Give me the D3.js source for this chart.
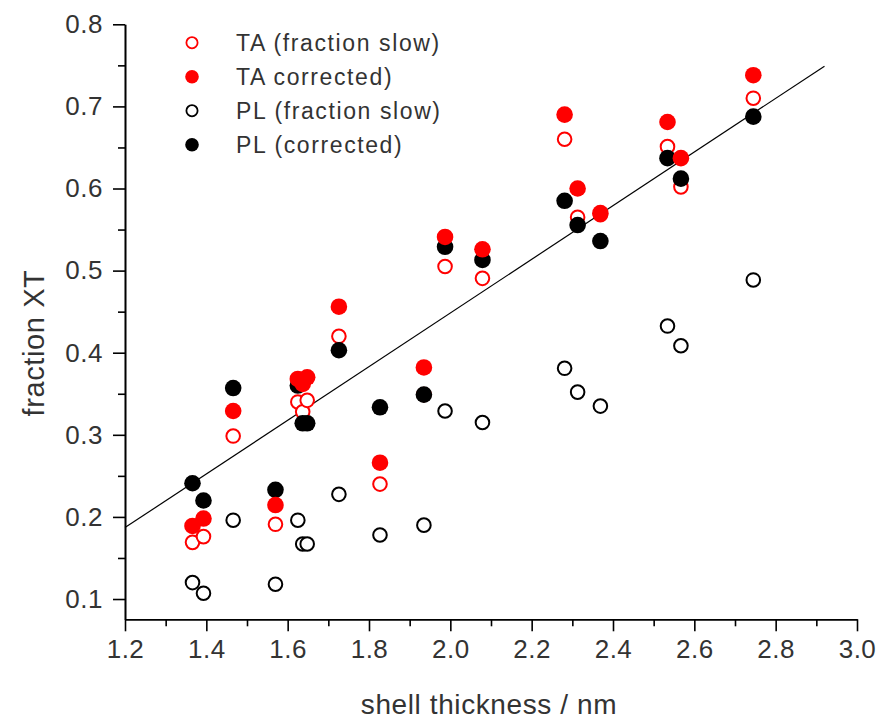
<!DOCTYPE html>
<html>
<head>
<meta charset="utf-8">
<script src="https://cdn.jsdelivr.net/npm/d3@7/dist/d3.min.js"></script>
<style>
  html, body { margin: 0; padding: 0; background: #fff; }
  svg { display: block; }
  svg text { font-family: "Liberation Sans", Arial, sans-serif; }
</style>
</head>
<body>
<svg id="chart" width="879" height="719"></svg>
<script>
// Shell thickness (nm) of each sample
const thickness = [1.366, 1.393, 1.466, 1.570, 1.625, 1.637, 1.648, 1.726, 1.827,
                   1.935, 1.987, 2.079, 2.281, 2.313, 2.369, 2.534, 2.567, 2.745];
// Fraction XT per method
const taSlow      = [0.169, 0.176, 0.2985, 0.191, 0.340, 0.328, 0.342, 0.420, 0.240,
                     0.349, 0.505, 0.4906, 0.660, 0.565, 0.568, 0.651, 0.602, 0.710];
const taCorrected = [0.189, 0.198, 0.329, 0.2145, 0.368, 0.362, 0.370, 0.456, 0.266,
                     0.382, 0.541, 0.526, 0.690, 0.600, 0.570, 0.681, 0.637, 0.738];
const plSlow      = [0.120, 0.107, 0.196, 0.118, 0.196, 0.167, 0.167, 0.2275, 0.178,
                     0.190, 0.329, 0.315, 0.381, 0.352, 0.335, 0.4325, 0.4085, 0.4886];
const plCorrected = [0.241, 0.220, 0.357, 0.233, 0.360, 0.314, 0.314, 0.403, 0.3335,
                     0.349, 0.529, 0.513, 0.585, 0.5555, 0.536, 0.637, 0.612, 0.6875];
// Linear trend line end points
const fitX = [1.2, 2.92];
const fitY = [0.187, 0.749];

const xTicks = [1.2, 1.4, 1.6, 1.8, 2.0, 2.2, 2.4, 2.6, 2.8, 3.0];
const xMinor = [1.3, 1.5, 1.7, 1.9, 2.1, 2.3, 2.5, 2.7, 2.9];
const yTicks = [0.1, 0.2, 0.3, 0.4, 0.5, 0.6, 0.7, 0.8];
const yMinor = [0.15, 0.25, 0.35, 0.45, 0.55, 0.65, 0.75];

const seriesNames = ["TA (fraction slow)", "TA corrected)", "PL (fraction slow)", "PL (corrected)"];

const svg = d3.select("#chart");
const x = d3.scaleLinear().domain([1.2, 3.0]).range([125, 857]);
const y = d3.scaleLinear().domain([0.0753, 0.8]).range([619.3, 24.3]);

const ink = "#333";
const font = "'Liberation Sans', Arial, sans-serif";

// Axes
const xAxis = d3.axisBottom(x).tickValues(xTicks).tickFormat(d3.format(".1f"))
  .tickSizeInner(12).tickSizeOuter(0).tickPadding(8);
const xAxisMinor = d3.axisBottom(x).tickValues(xMinor).tickFormat("")
  .tickSizeInner(7).tickSizeOuter(0);
const yAxis = d3.axisLeft(y).tickValues(yTicks).tickFormat(d3.format(".1f"))
  .tickSizeInner(12).tickSizeOuter(0).tickPadding(10);
const yAxisMinor = d3.axisLeft(y).tickValues(yMinor).tickFormat("")
  .tickSizeInner(7).tickSizeOuter(0);

function styleAxis(g) {
  g.attr("font-family", font);
  g.select(".domain").attr("stroke", "#000").attr("stroke-width", 1.6);
  g.selectAll(".tick line").attr("stroke", "#000").attr("stroke-width", 1.6);
  g.selectAll(".tick text").attr("fill", ink)
    .style("font-family", font)
    .style("font-size", "26px").style("letter-spacing", "0.5px");
}

svg.append("g").attr("transform", "translate(0,619.3)").call(xAxisMinor).call(styleAxis);
svg.append("g").attr("transform", "translate(0,619.3)").call(xAxis).call(styleAxis);
svg.append("g").attr("transform", "translate(125,0)").call(yAxisMinor).call(styleAxis);
svg.append("g").attr("transform", "translate(125,0)").call(yAxis).call(styleAxis);

// Axis titles
svg.append("text")
  .attr("x", 489).attr("y", 714)
  .attr("text-anchor", "middle")
  .attr("fill", ink)
  .style("font-family", font)
  .style("font-size", "28px").style("letter-spacing", "0.6px")
  .text("shell thickness / nm");

svg.append("text")
  .attr("transform", "translate(44,343) rotate(-90)")
  .attr("text-anchor", "middle")
  .attr("fill", ink)
  .style("font-family", font)
  .style("font-size", "29px").style("letter-spacing", "0.6px")
  .text("fraction XT");

// Trend line
svg.append("line")
  .attr("x1", x(fitX[0])).attr("y1", y(fitY[0]))
  .attr("x2", x(fitX[1])).attr("y2", y(fitY[1]))
  .attr("stroke", "#000").attr("stroke-width", 1.2);

// Scatter series
const layers = [
  { vals: plSlow,      color: "#000", filled: false },
  { vals: taSlow,      color: "#f00", filled: false },
  { vals: plCorrected, color: "#000", filled: true  },
  { vals: taCorrected, color: "#f00", filled: true  }
];

layers.forEach(s => {
  svg.append("g").selectAll("circle")
    .data(thickness.map((t, i) => [t, s.vals[i]]))
    .join("circle")
    .attr("cx", d => x(d[0]))
    .attr("cy", d => y(d[1]))
    .attr("r", s.filled ? 8.3 : 6.8)
    .attr("fill", s.filled ? s.color : "#fff")
    .attr("stroke", s.color)
    .attr("stroke-width", s.filled ? 0 : 2);
});

// Legend
const legendStyles = [
  { color: "#f00", filled: false },
  { color: "#f00", filled: true  },
  { color: "#000", filled: false },
  { color: "#000", filled: true  }
];
const legend = svg.append("g");
seriesNames.forEach((name, i) => {
  const cy = 42.7 + i * 34;
  const st = legendStyles[i];
  legend.append("circle")
    .attr("cx", 192).attr("cy", cy)
    .attr("r", st.filled ? 6.8 : 5.6)
    .attr("fill", st.filled ? st.color : "#fff")
    .attr("stroke", st.color)
    .attr("stroke-width", st.filled ? 0 : 1.8);
  legend.append("text")
    .attr("x", 236).attr("y", cy + 8)
    .attr("fill", ink)
    .style("font-family", font)
    .style("font-size", "23px").style("letter-spacing", "1.6px")
    .text(name);
});
</script>
</body>
</html>
